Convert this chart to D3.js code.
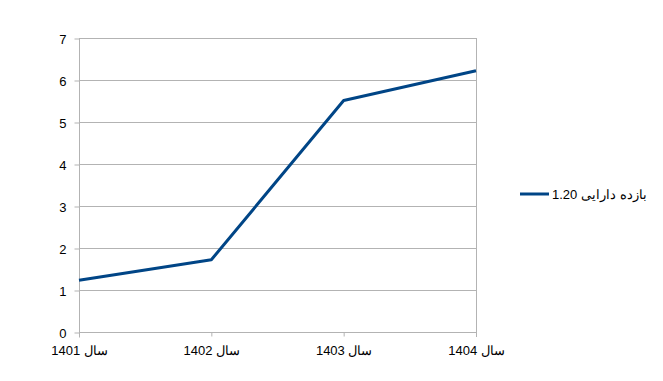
<!DOCTYPE html>
<html>
<head>
<meta charset="utf-8">
<script src="https://cdn.jsdelivr.net/npm/d3@7"></script>
<style>
  body { margin: 0; background: #fff; }
  text { font-family: "Liberation Sans", Arial, sans-serif; font-size: 13px; fill: #000; }
</style>
</head>
<body>
<svg id="chart" width="663" height="381"></svg>
<script>
let categories = ["سال 1401", "سال 1402", "سال 1403", "سال 1404"];
let values = [1.23, 1.72, 5.51, 6.22];
let yTicks = [0, 1, 2, 3, 4, 5, 6, 7];
let seriesName = "بازده دارایی 1.20";

let plot = { left: 79, right: 476, top: 38, bottom: 332 };
let lineColour = "#004586";
let gridColour = "#b3b3b3";

let svg = d3.select("#chart");

let x = d3.scalePoint()
    .domain(categories)
    .range([plot.left, plot.right]);

let y = d3.scaleLinear()
    .domain([0, 7])
    .range([plot.bottom, plot.top]);

// horizontal gridlines
svg.append("g")
    .selectAll("line")
    .data(yTicks)
    .join("line")
    .attr("x1", plot.left)
    .attr("x2", plot.right)
    .attr("y1", d => y(d) + 0.5)
    .attr("y2", d => y(d) + 0.5)
    .style("stroke", gridColour);

// right border
svg.append("line")
    .attr("x1", plot.right + 0.5).attr("x2", plot.right + 0.5)
    .attr("y1", plot.top).attr("y2", plot.bottom + 5)
    .style("stroke", gridColour);

// y axis
let yAxis = d3.axisLeft(y).tickValues(yTicks).tickFormat(d3.format("d")).tickSize(5).tickPadding(8);
let gy = svg.append("g")
    .attr("transform", "translate(" + (plot.left + 0.5) + ",0.5)")
    .call(yAxis);
gy.select(".domain").remove();
gy.append("line").attr("y1", plot.top).attr("y2", plot.bottom + 5).style("stroke", gridColour);
gy.selectAll(".tick line").style("stroke", gridColour);
gy.selectAll(".tick text").attr("font-size", 13).attr("font-family", "Liberation Sans, Arial, sans-serif").attr("dy", "0.35em");

// x axis
let xAxis = d3.axisBottom(x).tickSize(4).tickPadding(9);
let gx = svg.append("g")
    .attr("transform", "translate(0," + (plot.bottom + 0.5) + ")")
    .call(xAxis);
gx.select(".domain").remove();
gx.selectAll(".tick line").style("stroke", gridColour);
gx.selectAll(".tick text")
    .attr("font-size", 13)
    .attr("font-family", "Liberation Sans, Arial, sans-serif")
    .attr("direction", "rtl");

// data line
let line = d3.line()
    .x((d, i) => x(categories[i]))
    .y(d => y(d));

svg.append("path")
    .datum(values)
    .attr("d", line)
    .style("fill", "none")
    .style("stroke", lineColour)
    .style("stroke-width", 3)
    .style("stroke-linejoin", "round");

// legend
let legend = svg.append("g").attr("transform", "translate(520,194)");
legend.append("line")
    .attr("x1", 0).attr("x2", 29)
    .attr("y1", 0).attr("y2", 0)
    .style("stroke", lineColour)
    .style("stroke-width", 3);
legend.append("text")
    .attr("x", 32)
    .attr("y", 0)
    .attr("dy", "0.35em")
    .attr("direction", "rtl")
    .attr("text-anchor", "end")
    .text(seriesName);
</script>
</body>
</html>
